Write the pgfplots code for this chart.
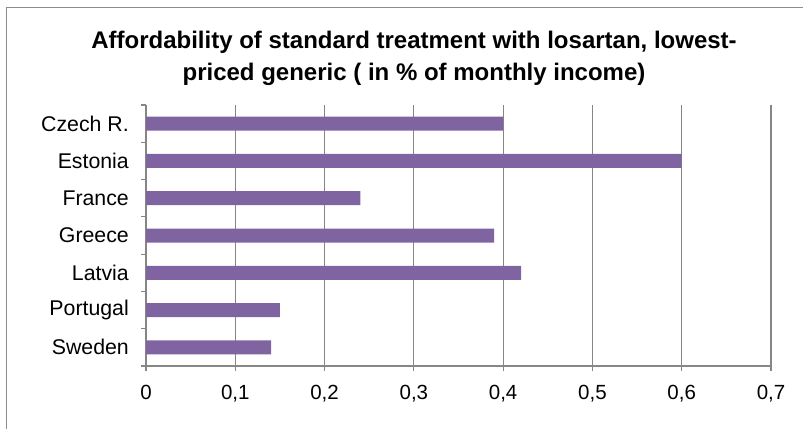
\documentclass[border=0pt]{standalone}
\usepackage{fontspec}
\setmainfont{Liberation Sans}
\usepackage{pgfplots}
\pgfplotsset{compat=1.18}
\definecolor{barc}{HTML}{8064A2}
\definecolor{gridc}{HTML}{868686}
\definecolor{framec}{HTML}{8C8C8C}
\begin{document}
\begin{tikzpicture}[x=1bp,y=1bp]
\clip (0,0) rectangle (803,428);
\draw[framec, line width=1.2bp] (6.5,-20) -- (6.5,420.5) -- (830,420.5);
\node[font=\fontsize{24bp}{28bp}\selectfont\bfseries, anchor=base, inner sep=0pt] at (414,380) {Affordability of standard treatment with losartan, lowest-};
\node[font=\fontsize{24bp}{28bp}\selectfont\bfseries, anchor=base, inner sep=0pt] at (414,348) {priced generic ( in \% of monthly income)};
\begin{axis}[at={(146bp,62bp)}, anchor=south west, scale only axis,
 width=625bp, height=261bp,
 xmin=0, xmax=0.7, ymin=-0.5, ymax=6.5, y dir=reverse,
 axis x line*=bottom, axis y line*=left,
 axis line style={gridc, line width=1.2bp},
 xtick={0,0.1,0.2,0.3,0.4,0.5,0.6,0.7},
 xticklabels={0,{0,1},{0,2},{0,3},{0,4},{0,5},{0,6},{0,7}},
 ytick={-0.5,0.5,1.5,2.5,3.5,4.5,5.5,6.5},
 y tick label as interval,
 yticklabels={Czech R.,Estonia,France,Greece,Latvia,Portugal,Sweden},
 xmajorgrids, grid style={gridc, line width=1.2bp},
 tick align=outside, major tick length=5bp, tick style={gridc, line width=1.2bp},
 ticklabel style={font=\fontsize{20.5bp}{24bp}\selectfont, inner sep=0pt, text=black},
 xticklabel style={anchor=north, yshift=-14bp},
 yticklabel style={anchor=east, xshift=-12bp, font=\fontsize{21.3bp}{24bp}\selectfont},
 /pgf/number format/assume math mode=true,
]
\addplot[xbar, bar width=14bp, fill=barc, draw=none] coordinates {(0.4,0) (0.6,1) (0.24,2) (0.39,3) (0.42,4) (0.15,5) (0.14,6)};
\end{axis}
\end{tikzpicture}
\end{document}
